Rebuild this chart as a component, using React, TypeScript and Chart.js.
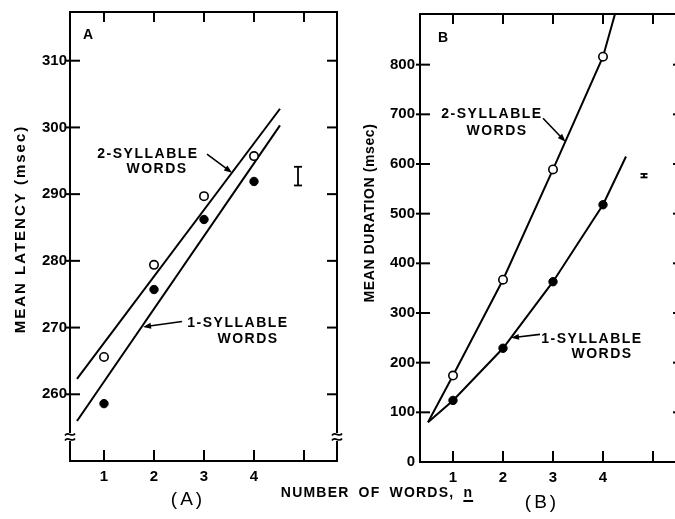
import { useEffect, useRef } from "react";
import { Chart, registerables } from "chart.js";
Chart.register(...registerables);

// ---------- data ----------
const X_TICKS = [1, 2, 3, 4, 5];
const X_TICK_LABELS = ["1", "2", "3", "4", ""];
const N_WORDS = [1, 2, 3, 4];

// Panel A: mean latency (msec)
const A_Y_TICKS = [260, 270, 280, 290, 300, 310];
const A_LATENCY_2SYL = [265.6, 279.4, 289.7, 295.7];
const A_LATENCY_1SYL = [258.6, 275.7, 286.2, 291.9];
const A_FIT_X = [0.46, 4.52];
const A_FIT_2SYL = [262.3, 302.8];
const A_FIT_1SYL = [256.0, 300.3];
const A_ERR_X = 4.88;
const A_ERR_RANGE = [291.3, 294.1];
const A_BREAK_Y = 253.6;

// Panel B: mean duration (msec)
const B_Y_TICKS = [0, 100, 200, 300, 400, 500, 600, 700, 800];
const B_DURATION_2SYL = [174, 367, 589, 816];
const B_DURATION_1SYL = [124, 229, 363, 518];
const B_CURVE_2SYL_X = [0.5, 1, 2, 3, 4, 4.24];
const B_CURVE_2SYL_Y = [80, 174, 367, 589, 816, 902];
const B_CURVE_1SYL_X = [0.5, 1, 2, 3, 4, 4.46];
const B_CURVE_1SYL_Y = [80, 124, 229, 363, 518, 615];
const B_ERR_X = 4.82;
const B_ERR_RANGE = [573, 580];

// ---------- styling ----------
const FONT = '"Liberation Sans", Arial, sans-serif';
const TICK_FONT = { family: FONT, size: 15, weight: "bold" as const };

const pts = (xs: number[], ys: number[]) => xs.map((x, i) => ({ x, y: ys[i] }));

const openPoints = (ys: number[]) => ({
  data: pts(N_WORDS, ys),
  showLine: false,
  pointRadius: 4.2,
  pointBorderWidth: 1.6,
  pointBorderColor: "#000",
  pointBackgroundColor: "#fff",
});
const filledPoints = (ys: number[]) => ({
  data: pts(N_WORDS, ys),
  showLine: false,
  pointRadius: 4.2,
  pointBorderWidth: 1,
  pointBorderColor: "#000",
  pointBackgroundColor: "#000",
});
const lineDs = (xs: number[], ys: number[]) => ({
  data: pts(xs, ys),
  showLine: true,
  pointRadius: 0,
  borderColor: "#000",
  borderWidth: 2,
  fill: false,
});

type Note = { text: string[]; at: number[][]; arrow: number[][] };

const PANEL_A = {
  xMin: 0.32,
  xMax: 5.66,
  yMin: 250,
  yMax: 317.3,
  leftW: 70,
  bottomH: 58,
  yPad: 3,
  yTicks: A_Y_TICKS,
  letter: "A",
  letterAt: [0.68, 313.9],
  title: "MEAN LATENCY (msec)",
  titleAt: [21, 229],
  titleSpacing: "2px",
  titleSize: 15,
  errX: A_ERR_X,
  errRange: A_ERR_RANGE,
  errCap: 4,
  breakY: A_BREAK_Y as number | null,
  notes: [
    { text: ["2-SYLLABLE", "WORDS"], at: [[1.88, 296.0], [2.06, 293.7]], arrow: [[3.06, 296.0], [3.56, 293.2]] },
    { text: ["1-SYLLABLE", "WORDS"], at: [[3.68, 270.6], [3.88, 268.2]], arrow: [[2.56, 270.9], [1.78, 270.1]] },
  ] as Note[],
  datasets: [
    openPoints(A_LATENCY_2SYL),
    filledPoints(A_LATENCY_1SYL),
    lineDs(A_FIT_X, A_FIT_2SYL),
    lineDs(A_FIT_X, A_FIT_1SYL),
  ],
};

const PANEL_B = {
  xMin: 0.34,
  xMax: 5.6,
  yMin: 0,
  yMax: 902,
  leftW: 75,
  bottomH: 57,
  yPad: 5,
  yTicks: B_Y_TICKS,
  letter: "B",
  letterAt: [0.8, 854],
  title: "MEAN DURATION (msec)",
  titleAt: [25, 213],
  titleSpacing: "0.6px",
  titleSize: 14,
  errX: B_ERR_X,
  errRange: B_ERR_RANGE,
  errCap: 3.5,
  breakY: null as number | null,
  notes: [
    { text: ["2-SYLLABLE", "WORDS"], at: [[1.78, 700], [1.88, 666]], arrow: [[2.8, 692], [3.25, 645]] },
    { text: ["1-SYLLABLE", "WORDS"], at: [[3.78, 247], [3.98, 217]], arrow: [[2.74, 257], [2.16, 250]] },
  ] as Note[],
  datasets: [
    openPoints(B_DURATION_2SYL),
    filledPoints(B_DURATION_1SYL),
    lineDs(B_CURVE_2SYL_X, B_CURVE_2SYL_Y),
    lineDs(B_CURVE_1SYL_X, B_CURVE_1SYL_Y),
  ],
};

type Panel = typeof PANEL_A;

function decoPlugin(p: Panel) {
  return {
    id: "deco" + p.letter,
    afterDraw(chart: any) {
      const { ctx, chartArea: ca, scales } = chart;
      const xs = scales.x;
      const ys = scales.y;
      const X = (v: number) => xs.getPixelForValue(v);
      const Y = (v: number) => ys.getPixelForValue(v);
      const seg = (x1: number, y1: number, x2: number, y2: number) => {
        ctx.beginPath();
        ctx.moveTo(x1, y1);
        ctx.lineTo(x2, y2);
        ctx.stroke();
      };
      ctx.save();
      ctx.strokeStyle = "#000";
      ctx.fillStyle = "#000";
      ctx.lineWidth = 2;
      // inward ticks
      for (const v of X_TICKS) {
        const px = X(v);
        seg(px, ca.bottom, px, ca.bottom - 11);
        seg(px, ca.top, px, ca.top + 10);
      }
      for (const v of p.yTicks) {
        const py = Y(v);
        if (v > p.yMin) seg(ca.left - 4, py, ca.left + 10, py);
        seg(ca.right - 10, py, ca.right, py);
      }
      // error bar
      {
        const ex = X(p.errX);
        const lo = Y(p.errRange[0]);
        const hi = Y(p.errRange[1]);
        ctx.lineWidth = 1.8;
        seg(ex, lo, ex, hi);
        seg(ex - p.errCap, lo, ex + p.errCap, lo);
        seg(ex - p.errCap, hi, ex + p.errCap, hi);
      }
      // axis break
      if (p.breakY !== null) {
        const by = Y(p.breakY);
        for (const ax of [ca.left, ca.right]) {
          ctx.save();
          ctx.fillStyle = "#fff";
          ctx.fillRect(ax - 3, by - 4, 6, 8);
          ctx.restore();
          ctx.lineWidth = 1.6;
          for (const dy of [-2.5, 2.5]) {
            ctx.beginPath();
            ctx.moveTo(ax - 5, by + dy + 1);
            ctx.bezierCurveTo(ax - 2, by + dy - 4, ax + 2, by + dy + 4, ax + 5, by + dy - 1);
            ctx.stroke();
          }
        }
      }
      // annotations
      ctx.font = `bold 14px ${FONT}`;
      (ctx as any).letterSpacing = "1.5px";
      ctx.textAlign = "center";
      ctx.textBaseline = "middle";
      for (const n of p.notes) {
        n.text.forEach((t, i) => ctx.fillText(t, X(n.at[i][0]), Y(n.at[i][1])));
        const x1 = X(n.arrow[0][0]);
        const y1 = Y(n.arrow[0][1]);
        const x2 = X(n.arrow[1][0]);
        const y2 = Y(n.arrow[1][1]);
        ctx.lineWidth = 1.6;
        const ang = Math.atan2(y2 - y1, x2 - x1);
        const L = 8;
        seg(x1, y1, x2 - Math.cos(ang) * L * 0.6, y2 - Math.sin(ang) * L * 0.6);
        ctx.beginPath();
        ctx.moveTo(x2, y2);
        ctx.lineTo(x2 - Math.cos(ang) * L + Math.sin(ang) * 3, y2 - Math.sin(ang) * L - Math.cos(ang) * 3);
        ctx.lineTo(x2 - Math.cos(ang) * L - Math.sin(ang) * 3, y2 - Math.sin(ang) * L + Math.cos(ang) * 3);
        ctx.closePath();
        ctx.fill();
      }
      // panel letter
      (ctx as any).letterSpacing = "0px";
      ctx.font = `bold 14px ${FONT}`;
      ctx.fillText(p.letter, X(p.letterAt[0]), Y(p.letterAt[1]));
      // y title
      ctx.save();
      ctx.translate(p.titleAt[0], p.titleAt[1]);
      ctx.rotate(-Math.PI / 2);
      ctx.font = `bold ${p.titleSize}px ${FONT}`;
      (ctx as any).letterSpacing = p.titleSpacing;
      ctx.fillText(p.title, 0, 0);
      ctx.restore();
      ctx.restore();
    },
  };
}

function makeConfig(p: Panel): any {
  const axisCommon = {
    grid: { drawOnChartArea: false, drawTicks: false },
    border: { color: "#000", width: 2 },
  };
  return {
    type: "scatter",
    data: { datasets: p.datasets },
    options: {
      responsive: false,
      animation: false,
      devicePixelRatio: 1,
      events: [],
      layout: { padding: 0 },
      plugins: { legend: { display: false }, tooltip: { enabled: false } },
      scales: {
        x: {
          type: "linear",
          position: "bottom",
          min: p.xMin,
          max: p.xMax,
          afterFit: (s: any) => {
            s.height = p.bottomH;
          },
          afterBuildTicks: (s: any) => {
            s.ticks = X_TICKS.map((v) => ({ value: v }));
          },
          ticks: {
            callback: (v: number) => X_TICK_LABELS[X_TICKS.indexOf(v)] ?? "",
            font: TICK_FONT,
            color: "#000",
            padding: 7,
            maxRotation: 0,
            autoSkip: false,
          },
          ...axisCommon,
        },
        xTop: {
          type: "linear",
          position: "top",
          min: p.xMin,
          max: p.xMax,
          afterFit: (s: any) => {
            s.height = 10;
          },
          ticks: { display: false },
          ...axisCommon,
        },
        y: {
          type: "linear",
          position: "left",
          min: p.yMin,
          max: p.yMax,
          afterFit: (s: any) => {
            s.width = p.leftW;
          },
          afterBuildTicks: (s: any) => {
            s.ticks = p.yTicks.map((v) => ({ value: v }));
          },
          ticks: {
            callback: (v: number) => String(v),
            font: TICK_FONT,
            color: "#000",
            padding: p.yPad,
            autoSkip: false,
          },
          ...axisCommon,
        },
        yRight: {
          type: "linear",
          position: "right",
          min: p.yMin,
          max: p.yMax,
          afterFit: (s: any) => {
            s.width = 8;
          },
          ticks: { display: false },
          ...axisCommon,
        },
      },
    },
    plugins: [decoPlugin(p)],
  };
}

const textStyle = (x: number, y: number, extra: any = {}): any => ({
  position: "absolute",
  left: x,
  top: y,
  transform: "translate(-50%, -50%)",
  whiteSpace: "nowrap",
  lineHeight: 1,
  color: "#000",
  fontFamily: FONT,
  ...extra,
});

export default function App() {
  const refA = useRef<HTMLCanvasElement>(null);
  const refB = useRef<HTMLCanvasElement>(null);
  useEffect(() => {
    const a = new Chart(refA.current!, makeConfig(PANEL_A));
    const b = new Chart(refB.current!, makeConfig(PANEL_B));
    return () => {
      a.destroy();
      b.destroy();
    };
  }, []);
  return (
    <div
      style={{
        position: "fixed",
        left: 0,
        top: 0,
        width: 675,
        height: 519,
        overflow: "hidden",
        background: "#fff",
      }}
    >
      <canvas ref={refA} width={345} height={519} style={{ position: "absolute", left: 0, top: 0 }} />
      <canvas ref={refB} width={346} height={519} style={{ position: "absolute", left: 345, top: 0 }} />
      <div style={textStyle(188, 498, { fontSize: 19, letterSpacing: "3px" })}>(A)</div>
      <div style={textStyle(542, 501, { fontSize: 19, letterSpacing: "3px" })}>(B)</div>
      <div style={textStyle(377, 492, { fontSize: 14, fontWeight: "bold", letterSpacing: "1.2px", wordSpacing: "4px" })}>
        NUMBER OF WORDS, <span style={{ textDecoration: "underline", textDecorationThickness: "2px", textUnderlineOffset: "3px" }}>n</span>
      </div>
    </div>
  );
}
